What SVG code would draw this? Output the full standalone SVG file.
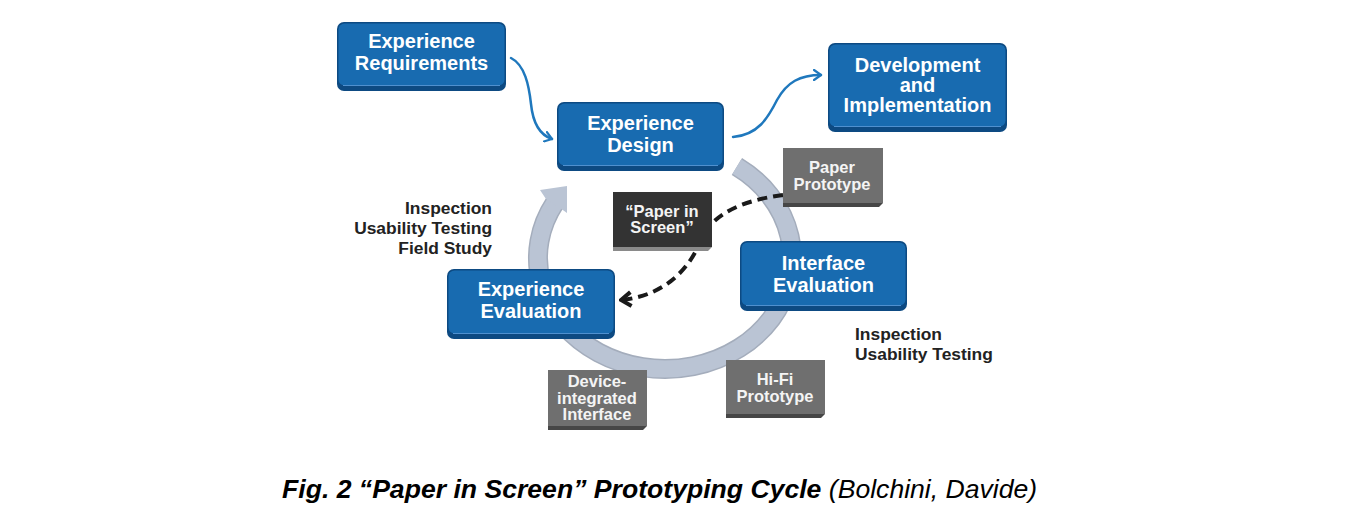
<svg xmlns="http://www.w3.org/2000/svg" width="1346" height="532" viewBox="0 0 1346 532">
  <style>
    text { font-family: "Liberation Sans", Arial, Helvetica, sans-serif; }
    .bbase { fill: #0d4a82; }
    .bface { fill: #186bb0; }
    .bhl { stroke: #4f90cf; stroke-width: 1; fill: none; }
    .btxt { fill: #ffffff; font-size: 20px; font-weight: bold; text-anchor: middle; }
    .gface { fill: #6f6f6f; }
    .gedge { fill: #464646; }
    .dface { fill: #333333; }
    .dedge { fill: #8a8a8a; }
    .gtxt { fill: #f4f4f4; font-size: 16.5px; font-weight: bold; text-anchor: middle; }
    .lbl { fill: #222222; font-size: 17.4px; font-weight: bold; }
    .ring-out { fill: none; stroke: #a4adbc; stroke-width: 20; }
    .ring-in { fill: none; stroke: #bac4d4; stroke-width: 17; }
    .ring-head { fill: #bac4d4; }
    .flow { fill: none; stroke: #1f78bd; stroke-width: 2.5; stroke-linecap: round; }
    .dash { fill: none; stroke: #1a1a1a; stroke-width: 4; stroke-dasharray: 10 6; }
  </style>
  <defs>
    <marker id="chev-blue" markerUnits="userSpaceOnUse" viewBox="0 0 10 12" refX="8" refY="6" markerWidth="10" markerHeight="12" orient="auto">
      <path d="M1,1 L8,6 L1,11" fill="none" stroke="#1f78bd" stroke-width="2.2" stroke-linecap="round" stroke-linejoin="round"/>
    </marker>
    <marker id="chev-black" markerUnits="userSpaceOnUse" viewBox="0 0 14 18" refX="12" refY="9" markerWidth="14" markerHeight="18" orient="auto">
      <path d="M2,2 L12,9 L2,16" fill="none" stroke="#1a1a1a" stroke-width="4" stroke-linejoin="miter"/>
    </marker>
  </defs>

  <rect width="1346" height="532" fill="#ffffff"/>

  <!-- iteration ring -->
  <g id="cycle-ring">
    <path class="ring-out" d="M736.9,166.5 A127,111 0 1,1 555,202.5"/>
    <path class="ring-in" d="M736.9,166.5 A127,111 0 1,1 555,202.5"/>
    <polygon class="ring-head" points="546,199 540,190 567,186 567,213 560,208"/>
  </g>

  <!-- connectors -->
  <g id="connectors">
    <path class="flow" d="M511,58 C525,65 529,86 531,104 C533,124 540,135 552,139" marker-end="url(#chev-blue)"/>
    <path class="flow" d="M733,137 C758,135 768,118 777,100 C787,82 800,75 821,75" marker-end="url(#chev-blue)"/>
    <path class="dash" d="M783,195 C745,200 712,213 701,240 C690,268 665,296 621,300" marker-end="url(#chev-black)"/>
  </g>

  <!-- process steps -->
  <g id="experience-requirements">
    <rect class="bbase" x="337" y="22" width="169" height="69" rx="7"/>
    <rect class="bface" x="338.5" y="23.5" width="166" height="62" rx="6"/>
    <line class="bhl" x1="343" y1="85.5" x2="500" y2="85.5"/>
    <text class="btxt" x="421.5" y="48">Experience</text>
    <text class="btxt" x="421.5" y="70">Requirements</text>
  </g>

  <g id="experience-design">
    <rect class="bbase" x="557" y="102" width="167" height="69" rx="7"/>
    <rect class="bface" x="558.5" y="103.5" width="164" height="62" rx="6"/>
    <line class="bhl" x1="563" y1="165.5" x2="718" y2="165.5"/>
    <text class="btxt" x="640.5" y="130">Experience</text>
    <text class="btxt" x="640.5" y="152">Design</text>
  </g>

  <g id="development-implementation">
    <rect class="bbase" x="828" y="43" width="179" height="89" rx="7"/>
    <rect class="bface" x="829.5" y="44.5" width="176" height="82" rx="6"/>
    <line class="bhl" x1="834" y1="126.5" x2="1001" y2="126.5"/>
    <text class="btxt" x="917.5" y="72">Development</text>
    <text class="btxt" x="917.5" y="92">and</text>
    <text class="btxt" x="917.5" y="112">Implementation</text>
  </g>

  <g id="interface-evaluation">
    <rect class="bbase" x="740" y="241" width="167" height="70" rx="7"/>
    <rect class="bface" x="741.5" y="242.5" width="164" height="63" rx="6"/>
    <line class="bhl" x1="746" y1="305.5" x2="901" y2="305.5"/>
    <text class="btxt" x="823.5" y="269.5">Interface</text>
    <text class="btxt" x="823.5" y="291.5">Evaluation</text>
  </g>

  <g id="experience-evaluation">
    <rect class="bbase" x="447" y="269" width="168" height="70" rx="7"/>
    <rect class="bface" x="448.5" y="270.5" width="165" height="63" rx="6"/>
    <line class="bhl" x1="453" y1="333.5" x2="609" y2="333.5"/>
    <text class="btxt" x="531" y="296">Experience</text>
    <text class="btxt" x="531" y="318">Evaluation</text>
  </g>

  <!-- prototype stages -->
  <g id="paper-prototype">
    <rect class="gface" x="783" y="148" width="100" height="55"/>
    <polygon class="gedge" points="783,203 883,203 879,207 783,207"/>
    <text class="gtxt" x="832" y="173">Paper</text>
    <text class="gtxt" x="832" y="190">Prototype</text>
  </g>

  <g id="paper-in-screen">
    <rect class="dface" x="613" y="192" width="99" height="55"/>
    <polygon class="dedge" points="613,247 712,247 708,251 613,251"/>
    <text class="gtxt" x="662" y="217">“Paper in</text>
    <text class="gtxt" x="662" y="233">Screen”</text>
  </g>

  <g id="hifi-prototype">
    <rect class="gface" x="726" y="360" width="99" height="54"/>
    <polygon class="gedge" points="726,414 825,414 821,418 726,418"/>
    <text class="gtxt" x="775" y="385">Hi-Fi</text>
    <text class="gtxt" x="775" y="402">Prototype</text>
  </g>

  <g id="device-integrated-interface">
    <rect class="gface" x="548" y="370" width="99" height="56"/>
    <polygon class="gedge" points="548,426 647,426 643,430 548,430"/>
    <text class="gtxt" x="597" y="387">Device-</text>
    <text class="gtxt" x="597" y="403.5">integrated</text>
    <text class="gtxt" x="597" y="420">Interface</text>
  </g>

  <!-- evaluation methods -->
  <g id="methods-experience">
    <text class="lbl" x="492" y="213.5" text-anchor="end">Inspection</text>
    <text class="lbl" x="492" y="233.5" text-anchor="end">Usability Testing</text>
    <text class="lbl" x="492" y="253.5" text-anchor="end">Field Study</text>
  </g>

  <g id="methods-interface">
    <text class="lbl" x="855" y="339.5">Inspection</text>
    <text class="lbl" x="855" y="359.5">Usability Testing</text>
  </g>

  <!-- caption -->
  <text x="282" y="498" font-size="26.6" fill="#000000" font-style="italic"><tspan font-weight="bold">Fig. 2 “Paper in Screen” Prototyping Cycle</tspan> (Bolchini, Davide)</text>
</svg>
